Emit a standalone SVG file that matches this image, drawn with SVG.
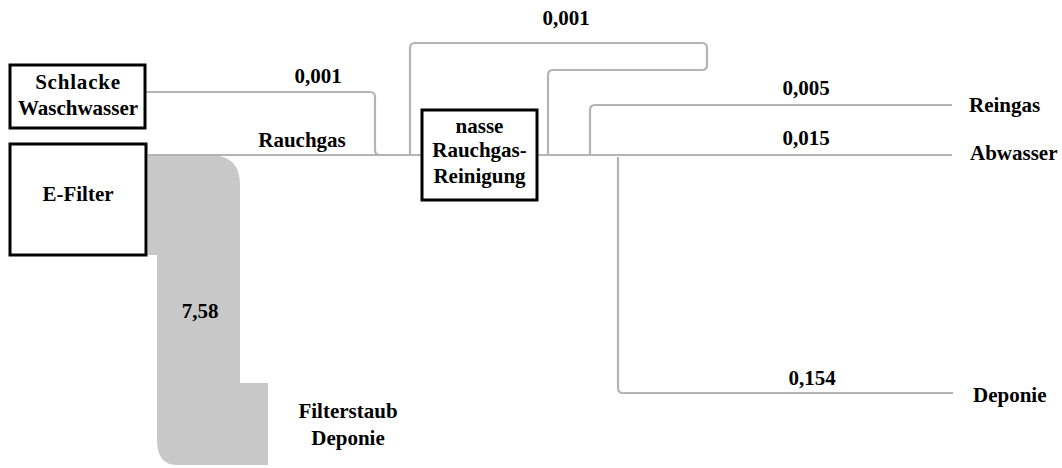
<svg xmlns="http://www.w3.org/2000/svg" width="1062" height="468" viewBox="0 0 1062 468">
<style>
text{font-family:"Liberation Serif","DejaVu Serif",serif;font-weight:bold;font-size:21px;fill:#000}
.box{fill:#fff;stroke:#000;stroke-width:3}
.flow{fill:none;stroke:#b4b4b4;stroke-width:2.2}
.band{fill:#c8c8c8}
</style>
<g id="connectors">
<path class="band" d="M148,155 H210 Q240,155 240,185 V383 H268 V465 H177 Q157,465 157,440 V255 H148 Z"/>
<path class="flow" d="M146,92 H370 Q375,92 375,97 V150 Q375,155 380,155 H422"/>
<path class="flow" d="M148,155 H422"/>
<path class="flow" d="M410,155 V48 Q410,43 415,43 H702 Q707,43 707,48 V65 Q707,70 702,70 H553 Q548,70 548,75 V155"/>
<path class="flow" d="M537,155 H952"/>
<path class="flow" d="M590,155 V110 Q590,105 595,105 H952"/>
<path class="flow" d="M618,157 V388 Q618,393 623,393 H953"/>
</g>
<g id="labels">
<text x="318" y="83" text-anchor="middle">0,001</text>
<text x="302" y="147" text-anchor="middle">Rauchgas</text>
<text x="566" y="25" text-anchor="middle">0,001</text>
<text x="806" y="95" text-anchor="middle">0,005</text>
<text x="806" y="145" text-anchor="middle">0,015</text>
<text x="812" y="385" text-anchor="middle">0,154</text>
<text x="200" y="318" text-anchor="middle">7,58</text>
</g>
<g id="schlacke">
<rect class="box" x="10" y="65" width="135" height="63"/>
<text x="78" y="89" text-anchor="middle" font-size="22" letter-spacing="0.8">Schlacke</text>
<text x="78" y="115" text-anchor="middle" font-size="21.5">Waschwasser</text>
</g>
<g id="efilter">
<rect class="box" x="10" y="144" width="136" height="111"/>
<text x="78" y="201" text-anchor="middle" font-size="22">E-Filter</text>
</g>
<g id="nasse">
<rect class="box" x="422" y="110" width="115" height="90"/>
<text x="479.5" y="133" text-anchor="middle">nasse</text>
<text x="479.5" y="157" text-anchor="middle">Rauchgas-</text>
<text x="479.5" y="183" text-anchor="middle">Reinigung</text>
</g>
<g id="reingas"><text x="969" y="112">Reingas</text></g>
<g id="abwasser"><text x="970" y="160">Abwasser</text></g>
<g id="deponie"><text x="973" y="402">Deponie</text></g>
<g id="filterstaub">
<text x="348" y="418" text-anchor="middle">Filterstaub</text>
<text x="348" y="445" text-anchor="middle">Deponie</text>
</g>
</svg>
